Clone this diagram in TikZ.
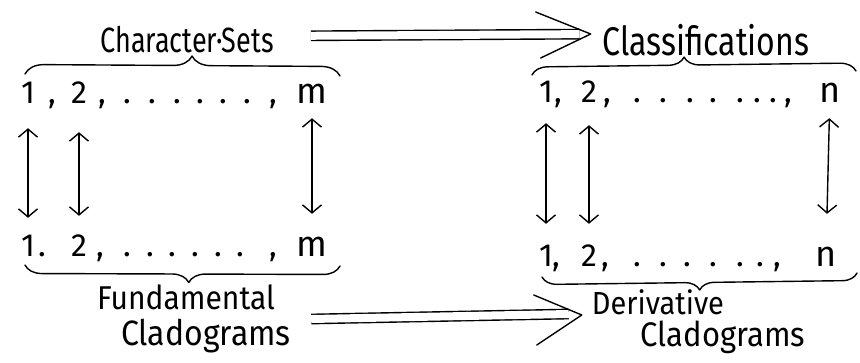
\documentclass[tikz,border=0pt]{standalone}
\usepackage{fontspec}
\setmainfont{Fira Sans}
\usetikzlibrary{arrows.meta,decorations.pathreplacing}
\begin{document}
\begin{tikzpicture}[x=1pt,y=-1pt,
  pen/.style={line width=1.4pt, line cap=round, line join=round},
  lbl/.style={inner sep=1pt},
  num/.style={inner sep=1pt, anchor=base, text height=22pt, text depth=0pt, font=\fontsize{32}{34}\selectfont},
  var/.style={num, font=\fontsize{36}{38}\selectfont},
  sepm/.style={inner sep=0pt, anchor=base, font=\fontsize{32}{34}\selectfont},
  vv/.style={pen, {Straight Barb[length=8pt,width=19pt]}-{Straight Barb[length=8pt,width=19pt]}},
  dbl/.style={line width=1.4pt, double distance=8pt},
  bracestyle/.style={pen, decorate},
]
\useasboundingbox (0,0) rectangle (860,362);

% titles
\node[lbl, font=\fontsize{27}{30}\selectfont] (cs) at (187,40) {\scalebox{1}[1.3]{Character·Sets}};
\node[lbl, font=\fontsize{32}{34}\selectfont] (cl) at (706,40) {\scalebox{1}[1.25]{Classifications}};
\node[lbl, font=\fontsize{30}{32}\selectfont] (f1) at (186,297) {\scalebox{1}[1.1]{Fundamental}};
\node[lbl, font=\fontsize{32}{34}\selectfont] (f2) at (206,336) {\scalebox{1}[1.1]{Cladograms}};
\node[lbl, font=\fontsize{29}{31}\selectfont] (dv1) at (658,302) {\scalebox{1}[1.1]{Derivative}};
\node[lbl, font=\fontsize{31}{33}\selectfont] (dv2) at (723,337) {\scalebox{1}[1.1]{Cladograms}};

% top-left row
\node[num] (a1) at (28,103) {1};
\node[sepm] (ac1) at (52,103) {,};
\node[num] (a2) at (79,103) {2};
\node[sepm] (ac2) at (102,103) {,};
\foreach \x [count=\i] in {127,152,177,200,223,247}
  \node[sepm] (ad\i) at (\x,103) {.};
\node[sepm] (ac3) at (273,103) {,};
\node[var] (am) at (312,103) {m};

% top-right row
\node[num] (c1) at (546,102) {1};
\node[sepm] (cc1) at (558,102) {,};
\node[num] (c2) at (589,102) {2};
\node[sepm] (cc2) at (607,102) {,};
\foreach \x [count=\i] in {637,663,690,713,740,757,773}
  \node[sepm] (cd\i) at (\x,102) {.};
\node[sepm] (cc3) at (788,102) {,};
\node[var] (cn) at (830,102) {n};

% bottom-left row
\node[num] (b1) at (28,256) {1};
\node[sepm] (bc1) at (42,256) {.};
\node[num] (b2) at (79,256) {2};
\node[sepm] (bc2) at (100,256) {,};
\foreach \x [count=\i] in {127,150,172,195,218,240}
  \node[sepm] (bd\i) at (\x,256) {.};
\node[sepm] (bc3) at (273,256) {,};
\node[var] (bm) at (312,256) {m};

% bottom-right row
\node[num] (d1) at (546,266) {1};
\node[sepm] (dc1) at (556,266) {,};
\node[num] (d2) at (589,266) {2};
\node[sepm] (dc2) at (605,266) {,};
\foreach \x [count=\i] in {637,663,687,713,740,760}
  \node[sepm] (dd\i) at (\x,266) {.};
\node[sepm] (dc3) at (777,266) {,};
\node[var] (dn) at (826,266) {n};

% vertical double-headed arrows
\draw[vv, shorten <=24pt, shorten >=15pt] (a1) -- (b1);
\draw[vv, shorten <=28pt, shorten >=17pt] (a2) -- (b2);
\draw[vv, shorten <=14pt, shorten >=19pt] (am) -- (bm);
\draw[vv, shorten <=20pt, shorten >=19pt] (c1) -- (d1);
\draw[vv, shorten <=22pt, shorten >=19pt] (c2) -- (d2);
\draw[vv, shorten <=15pt, shorten >=29pt] (cn) -- (dn);

% braces
\coordinate (btl1) at (25,74);  \coordinate (btl2) at (340,76);
\coordinate (btr1) at (532,75); \coordinate (btr2) at (856,71);
\coordinate (bbl1) at (340,266); \coordinate (bbl2) at (25,265);
\coordinate (bbr1) at (857,273); \coordinate (bbr2) at (542,277);
\draw[bracestyle, decoration={brace, amplitude=19pt, aspect=0.53}] (btl1) -- (btl2);
\draw[bracestyle, decoration={brace, amplitude=16pt, aspect=0.47}] (btr1) -- (btr2);
\draw[bracestyle, decoration={brace, amplitude=17pt, aspect=0.48}] (bbl1) -- (bbl2);
\draw[bracestyle, decoration={brace, amplitude=15pt, aspect=0.5}] (bbr1) -- (bbr2);

% double arrows
\draw[dbl, shorten <=36pt, shorten >=22pt] ([yshift=4pt]cs.east) -- ([yshift=6pt]cl.west);
\draw[pen] ([xshift=-66pt,yshift=28pt]cl.west) -- ([xshift=-11pt,yshift=6pt]cl.west) -- ([xshift=-61pt,yshift=-18pt]cl.west);

\draw[dbl] ([xshift=35pt,yshift=-22pt]f1.east) -- ([xshift=-22pt,yshift=-12pt]dv1.west);
\draw[pen] ([xshift=-57pt,yshift=7pt]dv1.west) -- ([xshift=-9pt,yshift=-13pt]dv1.west) -- ([xshift=-54pt,yshift=-43pt]dv1.west);
\end{tikzpicture}
\end{document}
